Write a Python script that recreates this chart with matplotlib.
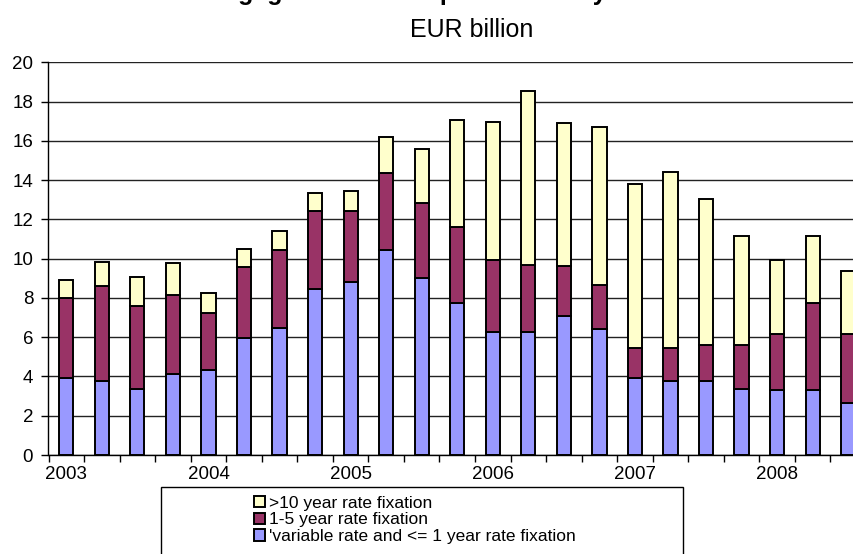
import numpy as np
import matplotlib.pyplot as plt
from matplotlib.patches import Rectangle

plt.rcParams['font.family'] = ['Liberation Sans', 'DejaVu Sans']

# quarterly new mortgage lending, EUR billion
quarters = [f"{y}Q{q}" for y in range(2003, 2009) for q in range(1, 5)][:23]
variable = [3.90, 3.77, 3.36, 4.11, 4.33, 5.98, 6.45, 8.45, 8.79, 10.44, 9.03, 7.76,
            6.28, 6.25, 7.10, 6.43, 3.94, 3.77, 3.77, 3.36, 3.31, 3.31, 2.63]
fix_1_5 = [4.08, 4.84, 4.25, 4.04, 2.92, 3.58, 3.99, 3.98, 3.64, 3.94, 3.82, 3.87,
           3.65, 3.43, 2.53, 2.21, 1.53, 1.70, 1.83, 2.24, 2.87, 4.41, 3.55]
fix_10 = [0.93, 1.24, 1.47, 1.65, 0.98, 0.92, 0.97, 0.90, 1.03, 1.83, 2.72, 5.43,
          7.05, 8.88, 7.30, 8.05, 8.33, 8.96, 7.44, 5.55, 3.75, 3.45, 3.21]
year_labels = ['2003', '2004', '2005', '2006', '2007', '2008']

x = np.arange(len(quarters))
variable = np.array(variable)
fix_1_5 = np.array(fix_1_5)
fix_10 = np.array(fix_10)

fig = plt.figure(figsize=(8.54, 5.54), dpi=100)
ax = fig.add_axes([48.5 / 854, 99 / 554, 817.5 / 854, 392.7 / 554])

w = 0.4
b1 = ax.bar(x, variable, w, color='#9999FF', edgecolor='black', lw=1.4, zorder=3,
            label="'variable rate and <= 1 year rate fixation")
b2 = ax.bar(x, fix_1_5, w, bottom=variable, color='#993366', edgecolor='black', lw=1.4,
            zorder=3, label='1-5 year rate fixation')
b3 = ax.bar(x, fix_10, w, bottom=variable + fix_1_5, color='#FFFFCC', edgecolor='black',
            lw=1.4, zorder=3, label='>10 year rate fixation')

ax.set_xlim(-0.5, len(quarters) - 0.5)
ax.set_ylim(0, 20)
ax.set_yticks(np.arange(0, 21, 2))
ax.yaxis.grid(True, color='#222222', lw=1.0, zorder=0)
ax.set_axisbelow(True)

ax.set_xticks(np.arange(0, len(quarters), 4))
ax.set_xticklabels(year_labels)
ax.set_xticks(np.arange(-0.5, len(quarters), 1), minor=True)
ax.tick_params(axis='x', which='major', length=0, pad=8, labelsize=13.5)
ax.tick_params(axis='x', which='minor', length=5, width=1, direction='out')
ax.tick_params(axis='y', length=5, width=1, direction='out', pad=6, labelsize=13.5)

for s in ['top', 'right']:
    ax.spines[s].set_visible(False)
ax.spines['left'].set_linewidth(1.0)
ax.spines['bottom'].set_linewidth(1.0)

fig.text(470 / 854, 1.0, 'Mortgage loans: new production by rate fixation',
         ha='center', va='baseline', fontsize=18, fontweight='bold')
fig.text(472 / 854, 1 - 30 / 554, 'EUR billion', ha='center', va='center', fontsize=18)

# legend box, wider than its entries
fig.patches.append(Rectangle((161 / 854, -0.05), 522 / 854, 0.05 + 67 / 554,
                             transform=fig.transFigure, fill=False, ec='black', lw=1.0))
fig.legend(handles=[b3, b2, b1], loc='upper center', bbox_to_anchor=(415 / 854, 1 - 487 / 554),
           frameon=False, fontsize=12.5, handlelength=0.65, handleheight=0.65,
           handletextpad=0.25, labelspacing=0.1, borderpad=0)

fig.savefig('out.png', dpi=100)
